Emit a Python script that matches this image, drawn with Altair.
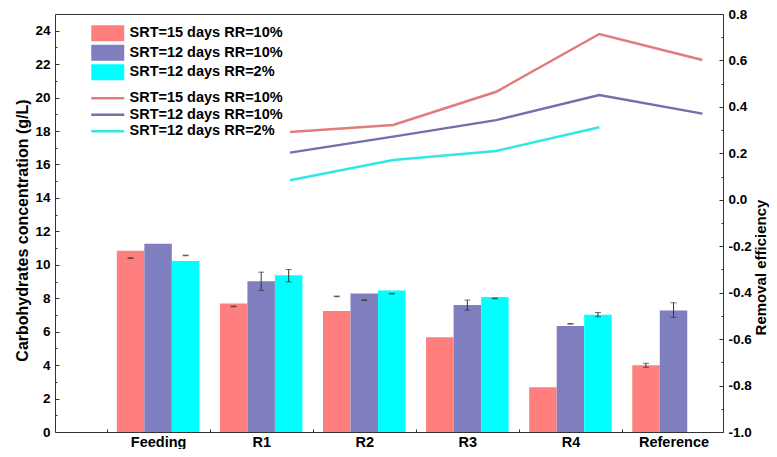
import json
import altair as alt
import pandas as pd

# ---------------- data ----------------
categories = ["Feeding", "R1", "R2", "R3", "R4", "Reference"]
series = ["SRT=15 days RR=10%", "SRT=12 days RR=10%", "SRT=12 days RR=2%"]
bar_colors = ["#FF7F7F", "#7F7FBF", "#00FFFF"]
line_colors = ["#E07C7C", "#7070AC", "#33E6E6"]

# Carbohydrates concentration (g/L) - left axis
conc_15d_10 = [10.84, 7.69, 7.23, 5.66, 2.67, 3.99]
conc_12d_10 = [11.26, 9.01, 8.29, 7.59, 6.34, 7.27]
conc_12d_2 = [10.22, 9.38, 8.47, 8.07, 7.01, None]

# error bar ends (g/L)
err_lo_15d_10 = [10.38, 7.49, 8.09, None, None, 3.87]
err_hi_15d_10 = [10.42, 7.53, 8.13, None, None, 4.11]
err_lo_12d_10 = [None, 8.47, 7.87, 7.29, 6.45, 6.86]
err_hi_12d_10 = [None, 9.56, 7.91, 7.89, 6.49, 7.73]
err_lo_12d_2 = [10.54, 8.98, 8.25, 7.97, 6.89, None]
err_hi_12d_2 = [10.58, 9.72, 8.29, 8.01, 7.15, None]

# Removal efficiency - right axis
eff_categories = ["R1", "R2", "R3", "R4", "Reference"]
eff_15d_10 = [0.292, 0.322, 0.465, 0.714, 0.602]
eff_12d_10 = [0.203, 0.272, 0.343, 0.451, 0.371]
eff_12d_2 = [0.084, 0.171, 0.210, 0.312, None]

left_ticks = list(range(0, 25, 2))
left_minor = list(range(1, 25, 2))
right_ticks = [round(-1.0 + 0.2 * i, 1) for i in range(10)]
right_minor = [round(-0.9 + 0.2 * i, 1) for i in range(9)]

# ---------------- layout params ----------------
BAR_STEP = 0.267      # bar offset within group (category units)
LINE_SHIFT = 0.28     # lines drawn slightly right of group centre
FONT = "Liberation Sans"

conc = [conc_15d_10, conc_12d_10, conc_12d_2]
err_lo = [err_lo_15d_10, err_lo_12d_10, err_lo_12d_2]
err_hi = [err_hi_15d_10, err_hi_12d_10, err_hi_12d_2]
eff = [eff_15d_10, eff_12d_10, eff_12d_2]

bar_rows, err_rows, line_rows = [], [], []
for si, s in enumerate(series):
    for ci, c in enumerate(categories):
        pos = ci + 1 + (si - 1) * BAR_STEP
        if conc[si][ci] is not None:
            bar_rows.append({"series": s, "category": c, "pos": pos, "value": conc[si][ci]})
        if err_lo[si][ci] is not None:
            err_rows.append({"series": s, "pos": pos, "lo": err_lo[si][ci], "hi": err_hi[si][ci]})
    for ei, c in enumerate(eff_categories):
        if eff[si][ei] is not None:
            line_rows.append({"line_series": s, "pos": categories.index(c) + 1 + LINE_SHIFT,
                              "eff": eff[si][ei]})

bars_df = pd.DataFrame(bar_rows)
err_df = pd.DataFrame(err_rows)
lines_df = pd.DataFrame(line_rows)

xscale = alt.Scale(domain=[0, 6.48], nice=False, zero=False, padding=0)
yl = alt.Scale(domain=[0, 25], nice=False, zero=False)
yr = alt.Scale(domain=[-1.0, 0.8], nice=False, zero=False)

common = dict(grid=False, domain=False, tickColor="#333333", tickWidth=1,
              labelFont=FONT, labelFontWeight="bold", labelColor="black", labelFontSize=13.5,
              titleFont=FONT, titleFontWeight="bold", titleColor="black", titleFontSize=15.5)

x_label_expr = json.dumps(categories) + "[round(datum.value) - 1]"
x_labels_axis = alt.Axis(orient="bottom", values=list(range(1, 7)), ticks=False, tickSize=0,
                         labelPadding=3, labelExpr=x_label_expr, labelFontSize=14.5, title=None,
                         **{k: v for k, v in common.items() if k != "labelFontSize"})
x_ticks_axis = alt.Axis(orient="bottom", values=[0.5, 1.5, 2.5, 3.5, 4.5, 5.5], offset=-3,
                        tickSize=3, labels=False, title=None, **common)

left_axis = alt.Axis(orient="left", values=left_ticks, offset=-4, tickSize=4, labelPadding=5,
                     title="Carbohydrates concentration (g/L)", titleY=216, titlePadding=4,
                     **{k: v for k, v in common.items() if k != "titleFontSize"}, titleFontSize=16)
left_minor_axis = alt.Axis(orient="left", values=left_minor, offset=-2, tickSize=2,
                           labels=False, title=None, **common)

right_axis = alt.Axis(orient="right", values=right_ticks, offset=-4, tickSize=4, labelPadding=5,
                      labelExpr="datum.value < 0 ? '-' + format(abs(datum.value), '.1f') : format(datum.value, '.1f')",
                      title="Removal efficiency", titleAngle=270, titleBaseline="top", titleY=253,
                      titlePadding=2, **{k: v for k, v in common.items() if k != "titleFontSize"},
                      titleFontSize=15)
right_minor_axis = alt.Axis(orient="right", values=right_minor, offset=-2, tickSize=2,
                            labels=False, title=None, **common)

legend_common = dict(orient="none", title=None, padding=0, offset=0, direction="vertical",
                     labelFont=FONT, labelFontSize=14.5, labelFontWeight="bold", labelColor="black",
                     labelLimit=400, symbolSize=272.25, symbolOpacity=1)

bar_legend = alt.Legend(legendX=44.25, legendY=10.75, symbolType="M-2,-0.97H2V0.97H-2Z",
                        symbolStrokeWidth=0, labelOffset=13.25, rowPadding=2.5, **legend_common)
line_legend = alt.Legend(legendX=43.25, legendY=74.75, symbolType="M-2,0H2",
                         symbolStrokeWidth=2.5, labelOffset=12.25, rowPadding=0.5, **legend_common)

bars = alt.Chart(bars_df).mark_bar(width=27.5).encode(
    x=alt.X("pos:Q", scale=xscale, axis=x_labels_axis),
    y=alt.Y("value:Q", scale=yl, axis=left_axis),
    fill=alt.Fill("series:N", sort=series, scale=alt.Scale(range=bar_colors), legend=bar_legend),
)

err_rule = alt.Chart(err_df).mark_rule(color="#333333", strokeWidth=1).encode(
    x=alt.X("pos:Q", scale=xscale, axis=x_ticks_axis),
    y=alt.Y("lo:Q", scale=yl, axis=left_minor_axis),
    y2="hi:Q",
)
cap_lo = alt.Chart(err_df).mark_tick(orient="horizontal", size=6, thickness=1, color="#333333").encode(
    x=alt.X("pos:Q", scale=xscale, axis=None),
    y=alt.Y("lo:Q", scale=yl, axis=None),
)
cap_hi = alt.Chart(err_df).mark_tick(orient="horizontal", size=6, thickness=1, color="#333333").encode(
    x=alt.X("pos:Q", scale=xscale, axis=None),
    y=alt.Y("hi:Q", scale=yl, axis=None),
)

left_group = alt.layer(bars, err_rule, cap_lo, cap_hi).resolve_axis(x="independent", y="independent")

lines = alt.Chart(lines_df).mark_line(strokeWidth=2.5).encode(
    x=alt.X("pos:Q", scale=xscale, axis=None),
    y=alt.Y("eff:Q", scale=yr, axis=right_axis),
    stroke=alt.Stroke("line_series:N", sort=series, scale=alt.Scale(range=line_colors), legend=line_legend),
)
right_minor_layer = alt.Chart(lines_df).mark_point(opacity=0).encode(
    x=alt.X("pos:Q", scale=xscale, axis=None),
    y=alt.Y("eff:Q", scale=yr, axis=right_minor_axis),
)
right_group = alt.layer(lines, right_minor_layer).resolve_axis(y="independent")

chart = alt.layer(left_group, right_group).resolve_scale(y="independent").resolve_axis(
    x="independent", y="independent"
).properties(
    width=668, height=418,
    padding={"left": 47, "top": 6, "right": 46, "bottom": 17},
    autosize=alt.AutoSizeParams(type="none"),
    background="white",
).configure_view(stroke="#333333", strokeWidth=1)

chart.save("out.html", embed_options={"renderer": "svg", "actions": False})
